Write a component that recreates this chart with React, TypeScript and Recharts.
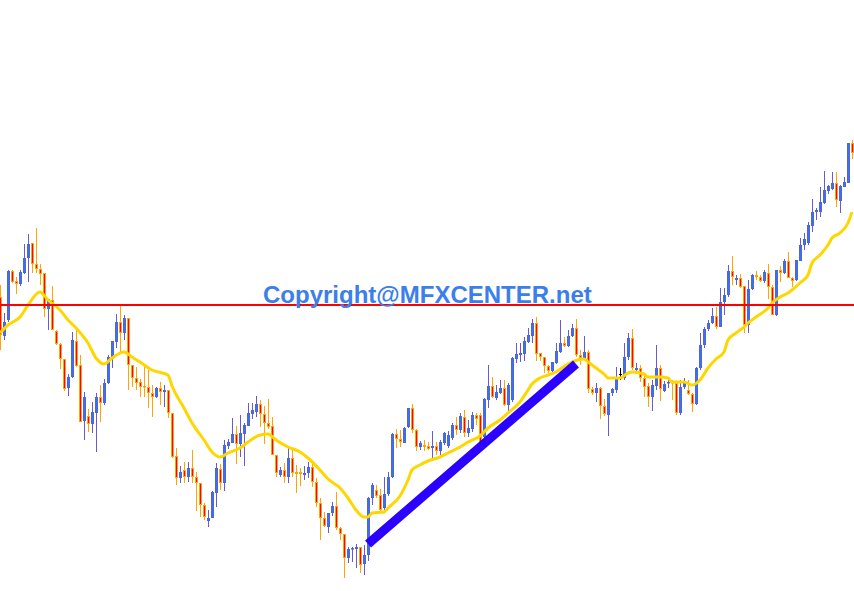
import React from 'react';
import { ComposedChart, Bar, Line, XAxis, YAxis, ReferenceLine } from 'recharts';

// OHLC prices, one per candle (oldest -> newest)
const opens = [
  303, 264, 280, 329, 319, 316, 327, 342, 357, 336,
  331, 327, 291, 300, 269, 256, 241, 212, 223, 259,
  235, 179, 184, 176, 187, 203, 197, 217, 241, 258,
  278, 267, 282, 235, 222, 218, 214, 213, 207, 203,
  212, 208, 210, 187, 144, 122, 130, 123, 132, 123,
  117, 95, 79, 82, 107, 131, 117, 154, 157, 166,
  156, 166, 174, 186, 188, 196, 186, 177, 174, 145,
  125, 130, 123, 142, 128, 128, 125, 127, 133, 118,
  97, 82, 73, 87, 94, 72, 66, 42, 51, 51,
  53, 36, 45, 102, 110, 105, 92, 106, 123, 166,
  161, 157, 173, 192, 170, 153, 155, 154, 152, 154,
  149, 157, 154, 162, 175, 170, 183, 167, 171, 185,
  185, 163, 200, 214, 202, 207, 212, 195, 200, 241,
  245, 246, 258, 264, 277, 247, 243, 234, 229, 237,
  248, 257, 254, 264, 272, 245, 241, 248, 211, 207,
  212, 194, 185, 207, 210, 226, 222, 243, 262, 230,
  232, 222, 214, 203, 214, 232, 209, 217, 218, 217,
  187, 213, 210, 206, 196, 232, 255, 271, 277, 284,
  273, 298, 305, 329, 320, 322, 314, 275, 311, 325,
  323, 319, 327, 313, 285, 330, 327, 339, 322, 320,
  339, 355, 357, 374, 388, 388, 397, 409, 411, 417,
  399, 413, 417, 457,
];
const highs = [
  315, 287, 330, 330, 323, 330, 356, 366, 357, 372,
  336, 327, 301, 314, 270, 257, 241, 226, 268, 272,
  245, 208, 191, 198, 207, 215, 221, 245, 259, 286,
  294, 285, 282, 235, 233, 221, 233, 230, 215, 213,
  218, 215, 210, 187, 152, 134, 138, 138, 150, 128,
  117, 97, 90, 109, 137, 136, 160, 161, 182, 174,
  185, 177, 197, 197, 204, 200, 194, 201, 183, 145,
  133, 137, 153, 150, 135, 132, 134, 138, 138, 122,
  102, 88, 87, 98, 108, 73, 66, 53, 53, 56,
  53, 55, 103, 117, 115, 111, 123, 128, 167, 171,
  170, 173, 192, 196, 171, 159, 160, 158, 169, 158,
  160, 168, 169, 177, 183, 187, 190, 180, 188, 187,
  187, 202, 235, 223, 215, 220, 220, 217, 243, 257,
  257, 263, 272, 281, 283, 247, 243, 235, 238, 257,
  280, 263, 270, 276, 281, 250, 264, 250, 213, 217,
  213, 201, 207, 212, 233, 232, 257, 267, 271, 237,
  235, 225, 217, 220, 255, 235, 219, 222, 220, 217,
  220, 222, 220, 207, 233, 267, 273, 280, 292, 293,
  312, 312, 335, 344, 325, 326, 314, 320, 326, 329,
  325, 330, 336, 315, 330, 334, 341, 348, 323, 340,
  362, 367, 378, 401, 392, 413, 429, 415, 428, 428,
  415, 423, 457, 460,
];
const lows = [
  250, 260, 278, 317, 306, 314, 326, 318, 327, 327,
  315, 283, 270, 270, 255, 231, 209, 204, 222, 233,
  178, 160, 168, 167, 148, 178, 195, 216, 232, 252,
  248, 260, 210, 213, 210, 203, 203, 192, 183, 202,
  195, 193, 182, 142, 115, 117, 117, 118, 117, 89,
  83, 80, 73, 82, 93, 110, 109, 151, 157, 136,
  143, 134, 174, 181, 183, 173, 156, 171, 145, 123,
  123, 117, 117, 123, 107, 114, 120, 122, 113, 93,
  60, 73, 67, 84, 70, 60, 22, 37, 38, 32,
  27, 25, 39, 95, 102, 88, 90, 104, 122, 152,
  153, 157, 172, 167, 149, 150, 149, 150, 140, 145,
  142, 155, 152, 160, 165, 167, 163, 163, 168, 175,
  158, 161, 192, 202, 200, 206, 194, 187, 198, 237,
  238, 239, 257, 257, 239, 239, 227, 227, 225, 236,
  247, 253, 253, 263, 243, 235, 240, 207, 205, 198,
  181, 184, 164, 204, 207, 220, 220, 240, 230, 228,
  218, 203, 193, 189, 210, 199, 208, 212, 200, 185,
  185, 211, 205, 188, 195, 230, 252, 269, 276, 271,
  273, 285, 303, 315, 315, 312, 267, 267, 310, 320,
  318, 317, 301, 285, 284, 318, 326, 322, 313, 319,
  339, 350, 355, 368, 380, 383, 396, 406, 410, 393,
  387, 413, 417, 441,
];
const closes = [
  265, 278, 329, 318, 316, 328, 342, 356, 336, 331,
  326, 291, 301, 270, 256, 241, 211, 223, 260, 234,
  178, 203, 176, 188, 203, 197, 217, 243, 259, 278,
  267, 282, 235, 222, 217, 213, 213, 207, 203, 212,
  208, 210, 187, 143, 122, 128, 123, 132, 123, 117,
  95, 83, 82, 108, 132, 117, 155, 158, 166, 156,
  167, 175, 187, 190, 196, 186, 177, 173, 145, 127,
  130, 123, 142, 127, 126, 126, 127, 133, 118, 97,
  82, 74, 87, 94, 72, 66, 42, 51, 52, 53,
  35, 45, 102, 115, 104, 90, 106, 123, 166, 161,
  158, 172, 192, 170, 153, 157, 153, 151, 154, 149,
  158, 167, 165, 175, 170, 184, 167, 172, 185, 181,
  158, 201, 214, 203, 208, 212, 195, 215, 242, 246,
  247, 259, 265, 277, 246, 243, 234, 229, 238, 249,
  257, 254, 264, 272, 245, 242, 248, 211, 207, 212,
  194, 186, 207, 211, 222, 226, 243, 262, 232, 232,
  222, 213, 203, 215, 232, 211, 216, 218, 217, 187,
  213, 217, 206, 196, 232, 255, 271, 277, 284, 273,
  298, 305, 329, 323, 322, 313, 275, 311, 325, 323,
  319, 328, 313, 285, 330, 327, 339, 322, 319, 340,
  355, 361, 375, 388, 390, 398, 410, 414, 417, 400,
  414, 418, 457, 447,
];

// Moving average readings (candle index -> value)
const maIndex = [
  0, 2, 5, 7, 10, 12, 15, 17, 19, 22, 24, 26, 28, 31, 33, 35, 38, 42, 43, 46,
  48, 51, 53, 55, 57, 60, 62, 65, 67, 69, 72, 75, 77, 80, 82, 85, 87, 89, 91, 92,
  93, 96, 97, 100, 102, 103, 105, 107, 110, 112, 115, 117, 120, 122, 125, 127, 130, 132, 133, 135,
  137, 139, 142, 143, 146, 147, 149, 151, 152, 155, 157, 158, 161, 162, 165, 167, 168, 171, 173, 175,
  177, 179, 181, 182, 184, 186, 187, 189, 192, 193, 195, 197, 198, 200, 202, 203, 205, 207, 208, 210,
  212, 213,
];
const maValues = [
  267, 275, 283, 295, 308, 300, 290, 280, 272, 257, 242, 236, 242, 248, 243, 238, 230, 225, 214, 192,
  177, 160, 148, 143, 147, 152, 158, 165, 166, 160, 153, 148, 142, 130, 121, 112, 102, 90, 83, 83,
  87, 88, 92, 104, 120, 130, 135, 139, 143, 147, 153, 158, 164, 172, 180, 187, 198, 210, 216, 222,
  225, 228, 236, 238, 241, 238, 232, 226, 222, 222, 227, 228, 226, 223, 223, 222, 218, 218, 215, 220,
  232, 241, 248, 260, 267, 273, 277, 283, 292, 297, 303, 307, 310, 317, 325, 337, 345, 355, 362, 367,
  377, 388,
];

const RESISTANCE = 295;
const TREND_FROM = { index: 92, price: 56 };
const TREND_TO = { index: 144, price: 236 };
const WATERMARK = 'Copyright@MFXCENTER.net';

const data: any[] = opens.map((o, i) => ({
  i,
  o,
  h: highs[i],
  l: lows[i],
  c: closes[i],
  range: [lows[i], highs[i]],
  ma: null as number | null,
}));
maIndex.forEach((k, j) => {
  if (data[k]) data[k].ma = maValues[j];
});

const Candle = (props: any) => {
  const { x, y, width, height, payload } = props;
  if (!payload) return null;
  const { o, h, l, c } = payload;
  // snap the candle centre onto a pixel centre so 1px wicks stay crisp
  const cx = Math.floor(x + width / 2) + 0.5;
  const top = Math.min(y, y + height);
  const bottom = Math.max(y, y + height);
  const span = h - l;
  const py = (v: number) => (span === 0 ? top : top + ((h - v) / span) * (bottom - top));
  const yHigh = py(h);
  const yLow = py(l);
  const bodyTop = py(Math.max(o, c));
  const bodyBot = py(Math.min(o, c));
  if (o === c) {
    return (
      <g>
        <line x1={cx} x2={cx} y1={yHigh} y2={yLow} stroke="#000000" strokeWidth={1} />
        <line x1={cx - 1.5} x2={cx + 1.5} y1={bodyTop + 0.5} y2={bodyTop + 0.5} stroke="#000000" strokeWidth={1} />
      </g>
    );
  }
  const bull = c > o;
  const wick = bull ? '#6A5ACD' : '#FFA500';
  const fill = bull ? '#4070E8' : '#FF0000';
  const edge = bull ? '#4A68DE' : '#FFA500';
  return (
    <g>
      <line x1={cx} x2={cx} y1={yHigh} y2={yLow} stroke={wick} strokeWidth={1} />
      <rect
        x={cx - 1}
        y={bodyTop + 0.5}
        width={2}
        height={Math.max(bodyBot - bodyTop - 1, 0.5)}
        fill={fill}
        stroke={edge}
        strokeWidth={1}
      />
    </g>
  );
};

export default function App() {
  return (
    <div
      style={{
        position: 'fixed',
        left: 0,
        top: 0,
        width: 854,
        height: 591,
        overflow: 'hidden',
        background: '#ffffff',
      }}
    >
      <div style={{ position: 'absolute', left: -2, top: 0 }}>
        <ComposedChart
          width={856}
          height={591}
          data={data}
          margin={{ top: 0, right: 0, bottom: 0, left: 0 }}
          barCategoryGap={0}
        >
          <XAxis dataKey="i" type="category" hide />
          <YAxis type="number" domain={[9, 600]} hide allowDataOverflow />
          <Bar dataKey="range" shape={<Candle />} isAnimationActive={false} />
          <Line
            dataKey="ma"
            type="monotone"
            stroke="#FFD700"
            strokeWidth={3}
            dot={false}
            activeDot={false}
            connectNulls
            isAnimationActive={false}
          />
          <ReferenceLine y={RESISTANCE} stroke="#FF0000" strokeWidth={2} />
          <ReferenceLine
            segment={[
              { x: TREND_FROM.index, y: TREND_FROM.price },
              { x: TREND_TO.index, y: TREND_TO.price },
            ]}
            stroke="#2B00FF"
            strokeWidth={9}
          />
        </ComposedChart>
      </div>
      <svg
        width={854}
        height={591}
        style={{ position: 'absolute', left: 0, top: 0, pointerEvents: 'none' }}
      >
        <text
          x={263}
          y={303}
          fontFamily="'Liberation Sans', Arial, sans-serif"
          fontWeight="bold"
          fontSize={24}
          fill="#3C7EEA"
        >
          {WATERMARK}
        </text>
      </svg>
    </div>
  );
}
